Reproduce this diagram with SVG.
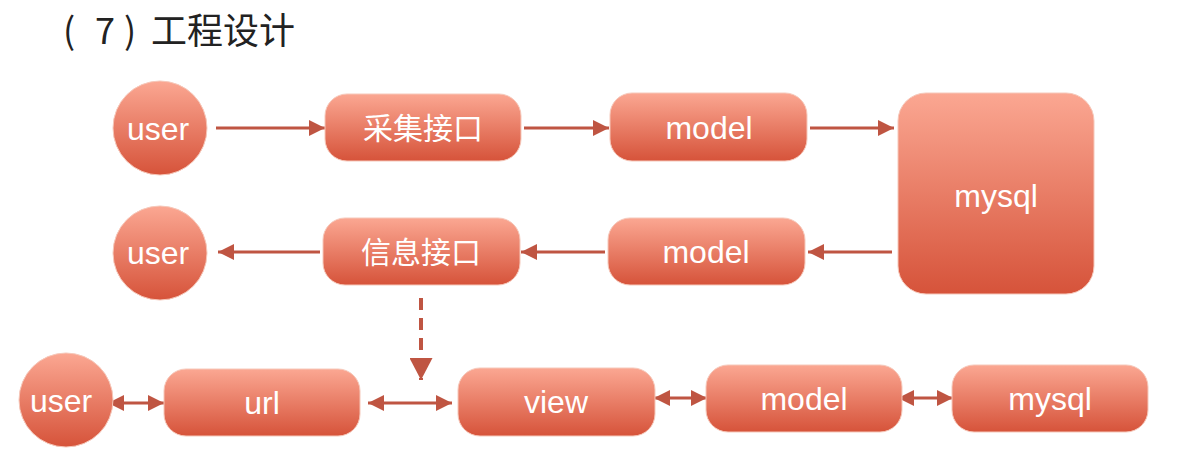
<svg xmlns="http://www.w3.org/2000/svg" width="1180" height="462" viewBox="0 0 1180 462">
<defs>
<linearGradient id="g" x1="0" y1="0" x2="0" y2="1">
<stop offset="0" stop-color="#FBA792"/>
<stop offset="1" stop-color="#D6533A"/>
</linearGradient>
<marker id="ah" viewBox="0 0 16 16" refX="16" refY="8" markerWidth="16" markerHeight="16" markerUnits="userSpaceOnUse" orient="auto-start-reverse">
<path d="M0,0 L16,8 L0,16 z" fill="#BF5542"/>
</marker>
<marker id="ahd" viewBox="0 0 23 22" refX="11.5" refY="22" markerWidth="23" markerHeight="22" markerUnits="userSpaceOnUse" orient="0">
<path d="M0,0 L23,0 L11.5,22 z" fill="#BF5542"/>
</marker>
<style>
.n{fill:url(#g);stroke:#F6C8BA;stroke-width:1}
.t{fill:#fff;font-family:"Liberation Sans","Noto Sans CJK SC",sans-serif;font-size:32px;text-anchor:middle}
.c{fill:#fff;font-family:"Noto Sans CJK SC",sans-serif;font-size:30px;text-anchor:middle}
.l{stroke:#BF5542;stroke-width:3;fill:none}
</style>
</defs>
<rect width="1180" height="462" fill="#fff"/>
<text y="44" font-family="'Noto Sans CJK SC',sans-serif" font-size="36" fill="#222"><tspan x="63">(</tspan><tspan x="95">7</tspan><tspan x="124">)</tspan><tspan x="151">工程设计</tspan></text>

<g id="connectors">
<line class="l" x1="216" y1="128" x2="325" y2="128" marker-end="url(#ah)"/>
<line class="l" x1="524" y1="128" x2="609" y2="128" marker-end="url(#ah)"/>
<line class="l" x1="810" y1="128" x2="894" y2="128" marker-end="url(#ah)"/>
<line class="l" x1="892" y1="252" x2="808" y2="252" marker-end="url(#ah)"/>
<line class="l" x1="605" y1="252" x2="521" y2="252" marker-end="url(#ah)"/>
<line class="l" x1="320" y1="252" x2="218" y2="252" marker-end="url(#ah)"/>
<line x1="421" y1="298" x2="421" y2="380" stroke="#BF5542" stroke-width="4" stroke-dasharray="12 8" marker-end="url(#ahd)"/>
<line class="l" x1="108" y1="403" x2="164" y2="403" marker-start="url(#ah)" marker-end="url(#ah)"/>
<line class="l" x1="368" y1="403" x2="452" y2="403" marker-start="url(#ah)" marker-end="url(#ah)"/>
<line class="l" x1="654" y1="398" x2="707" y2="398" marker-start="url(#ah)" marker-end="url(#ah)"/>
<line class="l" x1="898" y1="398" x2="953" y2="398" marker-start="url(#ah)" marker-end="url(#ah)"/>
</g>

<g id="user1"><circle class="n" cx="160" cy="128" r="47"/><text class="t" x="158" y="140" font-size="31">user</text></g>
<g id="caiji"><rect class="n" x="325" y="94" width="196" height="67" rx="22"/><text class="c" x="423" y="139">采集接口</text></g>
<g id="model1"><rect class="n" x="610" y="93" width="197" height="68" rx="22"/><text class="t" x="709" y="139">model</text></g>
<g id="mysql1"><rect class="n" x="898" y="93" width="196" height="201" rx="28"/><text class="t" x="996" y="207">mysql</text></g>

<g id="user2"><circle class="n" cx="160" cy="253" r="47"/><text class="t" x="158" y="264" font-size="31">user</text></g>
<g id="xinxi"><rect class="n" x="323" y="218" width="197" height="67" rx="22"/><text class="c" x="421" y="263">信息接口</text></g>
<g id="model2"><rect class="n" x="608" y="218" width="197" height="67" rx="22"/><text class="t" x="706" y="263">model</text></g>

<g id="user3"><circle class="n" cx="66" cy="400" r="47"/><text class="t" x="61" y="412" font-size="31">user</text></g>
<g id="url"><rect class="n" x="164" y="369" width="196" height="67" rx="22"/><text class="t" x="262" y="414">url</text></g>
<g id="view"><rect class="n" x="458" y="368" width="197" height="68" rx="22"/><text class="t" x="556" y="413">view</text></g>
<g id="model3"><rect class="n" x="706" y="365" width="196" height="67" rx="22"/><text class="t" x="804" y="410">model</text></g>
<g id="mysql3"><rect class="n" x="952" y="365" width="196" height="67" rx="22"/><text class="t" x="1050" y="410">mysql</text></g>
</svg>
